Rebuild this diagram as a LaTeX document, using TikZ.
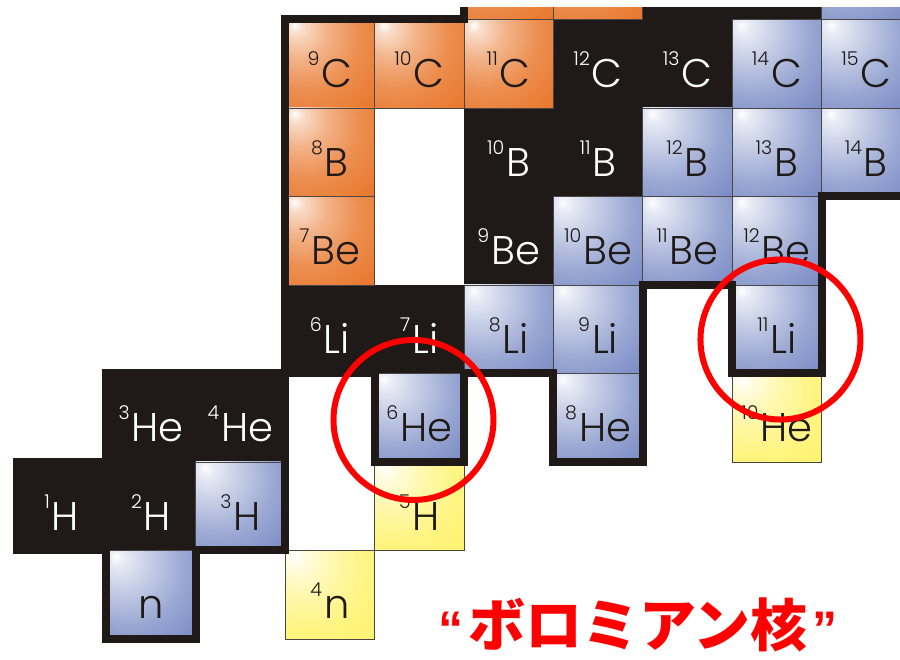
\documentclass[tikz,border=0pt]{standalone}
\usepackage{fontspec}
\newfontfamily\labfont{Poppins Light}
\newfontfamily\cjkfont{Noto Sans CJK JP}
\newfontfamily\quotefont{Liberation Sans}
\definecolor{stab}{HTML}{1F1A17}
\definecolor{orc}{HTML}{E8762A}
\definecolor{blc}{HTML}{6F82C0}
\definecolor{yec}{HTML}{FFF26A}
\definecolor{thinline}{HTML}{4A4645}
\definecolor{ringred}{HTML}{FF0000}
\pgfdeclareradialshading{orsh}{\pgfpoint{-20bp}{22bp}}{color(0bp)=(white); color(4bp)=(orc!25!white); color(15bp)=(orc!55!white); color(30bp)=(orc!82!white); color(50bp)=(orc); color(100bp)=(orc!85!black)}
\pgfdeclareradialshading{blsh}{\pgfpoint{-20bp}{22bp}}{color(0bp)=(white); color(4bp)=(blc!15!white); color(16bp)=(blc!40!white); color(32bp)=(blc!70!white); color(55bp)=(blc); color(100bp)=(blc!80!black)}
\pgfdeclareradialshading{yesh}{\pgfpoint{-20bp}{22bp}}{color(0bp)=(white); color(5bp)=(yec!20!white); color(18bp)=(yec!55!white); color(35bp)=(yec!85!white); color(55bp)=(yec); color(100bp)=(yec!92!orange)}
\newcommand\ms[1]{\raisebox{22pt}{\fontsize{19}{19}\selectfont #1}\hspace{2pt}}
\newcommand\stablecell[4]{%
  \fill[stab] (#1-0.005,#2-0.005) rectangle (#1+1.005,#2+1.005);
  \node[labw] (c#3) at (#1+0.5,#2+0.5) {#4};}
\newcommand\stableblank[2]{\fill[stab] (#1-0.005,#2-0.005) rectangle (#1+1.005,#2+1.005);}
\newcommand\colcell[5]{%
  \shadedraw[cellbase, shading=#5] (#1,#2) rectangle ++(1,1);
  \node[labk] (c#3) at (#1+0.5,#2+0.5) {#4};}
\newcommand\colblank[3]{\shadedraw[cellbase, shading=#3] (#1,#2) rectangle ++(1,1);}
\begin{document}
\begin{tikzpicture}[x=89.4pt,y=88.5pt,
  cellbase/.style={draw=thinline, line width=0.9pt},
  lab/.style={anchor=base, yshift=-24pt, inner sep=0pt, font=\labfont\fontsize{40}{40}\selectfont},
  labw/.style={lab, text=white},
  labk/.style={lab, text=stab},
  outline/.style={draw=stab, line width=8pt, line join=miter},
  ring/.style={circle, draw=ringred, line width=6pt, minimum size=160pt, inner sep=0pt},
  caption/.style={text=ringred, inner sep=0pt, anchor=base}]
\useasboundingbox (-17pt,-20pt) rectangle (883pt,639pt);
\begin{scope}
\clip (-17pt,-20pt) rectangle (883pt,631pt);
% stable nuclei
\stablecell{0}{1}{H1}{\ms{1}H}
\stablecell{1}{1}{H2}{\ms{2}H}
\stablecell{1}{2}{He3}{\ms{3}He}
\stablecell{2}{2}{He4}{\ms{4}He}
\stablecell{3}{3}{Li6}{\ms{6}Li}
\stablecell{4}{3}{Li7}{\ms{7}Li}
\stablecell{5}{4}{Be9}{\ms{9}Be}
\stablecell{5}{5}{B10}{\ms{10}B}
\stablecell{6}{5}{B11}{\ms{11}B}
\stablecell{6}{6}{C12}{\ms{12}C}
\stablecell{7}{6}{C13}{\ms{13}C}
\stableblank{7}{7}
\stableblank{8}{7}
% proton rich
\colcell{3}{6}{C9}{\ms{9}C}{orsh}
\colcell{4}{6}{C10}{\ms{10}C}{orsh}
\colcell{5}{6}{C11}{\ms{11}C}{orsh}
\colcell{3}{5}{B8}{\ms{8}B}{orsh}
\colcell{3}{4}{Be7}{\ms{7}Be}{orsh}
\colblank{5}{7}{orsh}
\colblank{6}{7}{orsh}
% neutron rich
\colcell{1}{0}{n}{n}{blsh}
\colcell{2}{1}{H3}{\ms{3}H}{blsh}
\colcell{4}{2}{He6}{\ms{6}He}{blsh}
\colcell{6}{2}{He8}{\ms{8}He}{blsh}
\colcell{5}{3}{Li8}{\ms{8}Li}{blsh}
\colcell{6}{3}{Li9}{\ms{9}Li}{blsh}
\colcell{8}{3}{Li11}{\ms{11}Li}{blsh}
\colcell{6}{4}{Be10}{\ms{10}Be}{blsh}
\colcell{7}{4}{Be11}{\ms{11}Be}{blsh}
\colcell{8}{4}{Be12}{\ms{12}Be}{blsh}
\colcell{7}{5}{B12}{\ms{12}B}{blsh}
\colcell{8}{5}{B13}{\ms{13}B}{blsh}
\colcell{9}{5}{B14}{\ms{14}B}{blsh}
\colcell{8}{6}{C14}{\ms{14}C}{blsh}
\colcell{9}{6}{C15}{\ms{15}C}{blsh}
\colblank{9}{7}{blsh}
% unbound
\colcell{3}{0}{n4}{\ms{4}n}{yesh}
\colcell{4}{1}{H5}{\ms{5}H}{yesh}
\colcell{8}{2}{He10}{\ms{10}He}{yesh}
% drip-line outline
\draw[outline] (3,7) -- (5,7) -- (5,8.2) -- (10.5,8.2) -- (10.5,5) -- (9,5) -- (9,3) -- (8,3) -- (8,4) -- (7,4) -- (7,2) -- (6,2) -- (6,3) -- (5,3) -- (5,2) -- (4,2) -- (4,3) -- (3,3) -- (3,1) -- (2,1) -- (2,0) -- (1,0) -- (1,1) -- (0,1) -- (0,2) -- (1,2) -- (1,3) -- (3,3) -- cycle;
\end{scope}
% Borromean highlights
\node[ring] (ringA) at (4.435,2.475) {};
\node[ring] (ringB) at (8.540,3.384) {};
\node[caption] (borro) at (6.946,-0.09) {{\quotefont\bfseries\fontsize{50}{50}\selectfont “}\hspace{5pt}{\cjkfont\bfseries\fontsize{57}{57}\selectfont ボロミアン核}\hspace{5pt}{\quotefont\bfseries\fontsize{50}{50}\selectfont ”}};
\end{tikzpicture}
\end{document}
